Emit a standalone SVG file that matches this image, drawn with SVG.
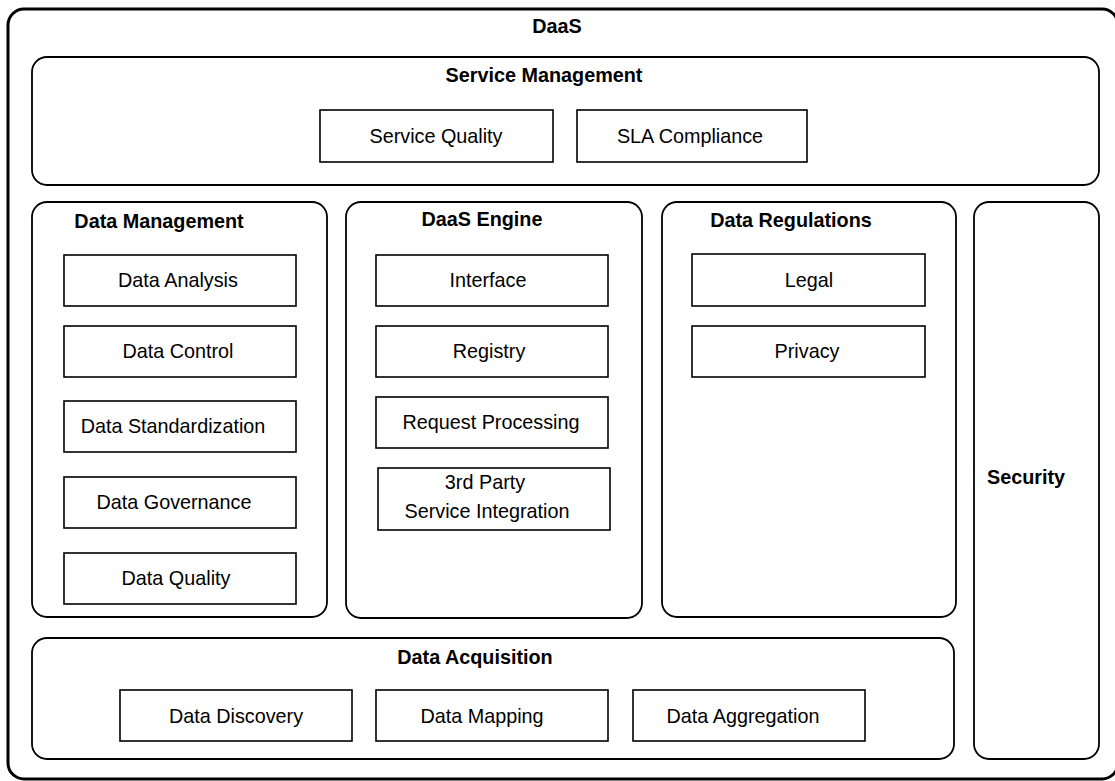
<svg xmlns="http://www.w3.org/2000/svg" width="1115" height="781" viewBox="0 0 1115 781">
<style>
  .outer{fill:#fff;stroke:#000;stroke-width:3}
  .grp{fill:#fff;stroke:#000;stroke-width:1.8}
  .box{fill:#fff;stroke:#000;stroke-width:1.6}
  .t{font-family:"Liberation Sans",Arial,sans-serif;font-size:19.8px;fill:#000;text-anchor:middle}
  .b{font-weight:bold}
</style>
<rect width="1115" height="781" fill="#fff"/>
<g id="daas">
  <rect class="outer" x="8" y="9" width="1110" height="770" rx="16"/>
  <text class="t b" x="557" y="33">DaaS</text>
</g>
<g id="service-management">
  <rect class="grp" x="32" y="57" width="1067" height="128" rx="15"/>
  <text class="t b" x="544" y="82">Service Management</text>
</g>
<g id="service-quality">
  <rect class="box" x="320" y="110" width="233" height="52"/>
  <text class="t" x="436" y="143">Service Quality</text>
</g>
<g id="sla-compliance">
  <rect class="box" x="577" y="110" width="230" height="52"/>
  <text class="t" x="690" y="143">SLA Compliance</text>
</g>
<g id="data-management">
  <rect class="grp" x="32" y="202" width="295" height="415" rx="15"/>
  <text class="t b" x="159" y="228">Data Management</text>
</g>
<g id="data-analysis">
  <rect class="box" x="64" y="255" width="232" height="51"/>
  <text class="t" x="178" y="287">Data Analysis</text>
</g>
<g id="data-control">
  <rect class="box" x="64" y="326" width="232" height="51"/>
  <text class="t" x="178" y="358">Data Control</text>
</g>
<g id="data-standardization">
  <rect class="box" x="64" y="401" width="232" height="51"/>
  <text class="t" x="173" y="433">Data Standardization</text>
</g>
<g id="data-governance">
  <rect class="box" x="64" y="477" width="232" height="51"/>
  <text class="t" x="174" y="509">Data Governance</text>
</g>
<g id="data-quality">
  <rect class="box" x="64" y="553" width="232" height="51"/>
  <text class="t" x="176" y="585">Data Quality</text>
</g>
<g id="daas-engine">
  <rect class="grp" x="346" y="202" width="296" height="416" rx="15"/>
  <text class="t b" x="482" y="226">DaaS Engine</text>
</g>
<g id="interface">
  <rect class="box" x="376" y="255" width="232" height="51"/>
  <text class="t" x="488" y="287">Interface</text>
</g>
<g id="registry">
  <rect class="box" x="376" y="326" width="232" height="51"/>
  <text class="t" x="489" y="358">Registry</text>
</g>
<g id="request-processing">
  <rect class="box" x="376" y="397" width="232" height="51"/>
  <text class="t" x="491" y="429">Request Processing</text>
</g>
<g id="third-party">
  <rect class="box" x="378" y="468" width="232" height="62"/>
  <text class="t" x="485" y="489">3rd Party</text>
  <text class="t" x="487" y="518">Service Integration</text>
</g>
<g id="data-regulations">
  <rect class="grp" x="662" y="202" width="294" height="415" rx="15"/>
  <text class="t b" x="791" y="227">Data Regulations</text>
</g>
<g id="legal">
  <rect class="box" x="692" y="254" width="233" height="52"/>
  <text class="t" x="809" y="287">Legal</text>
</g>
<g id="privacy">
  <rect class="box" x="692" y="326" width="233" height="51"/>
  <text class="t" x="807" y="358">Privacy</text>
</g>
<g id="security">
  <rect class="grp" x="974" y="202" width="125" height="557" rx="15"/>
  <text class="t b" x="1026" y="484">Security</text>
</g>
<g id="data-acquisition">
  <rect class="grp" x="32" y="638" width="922" height="121" rx="15"/>
  <text class="t b" x="475" y="664">Data Acquisition</text>
</g>
<g id="data-discovery">
  <rect class="box" x="120" y="690" width="232" height="51"/>
  <text class="t" x="236" y="723">Data Discovery</text>
</g>
<g id="data-mapping">
  <rect class="box" x="376" y="690" width="232" height="51"/>
  <text class="t" x="482" y="723">Data Mapping</text>
</g>
<g id="data-aggregation">
  <rect class="box" x="633" y="690" width="232" height="51"/>
  <text class="t" x="743" y="723">Data Aggregation</text>
</g>
<g id="connectors"></g>
</svg>
